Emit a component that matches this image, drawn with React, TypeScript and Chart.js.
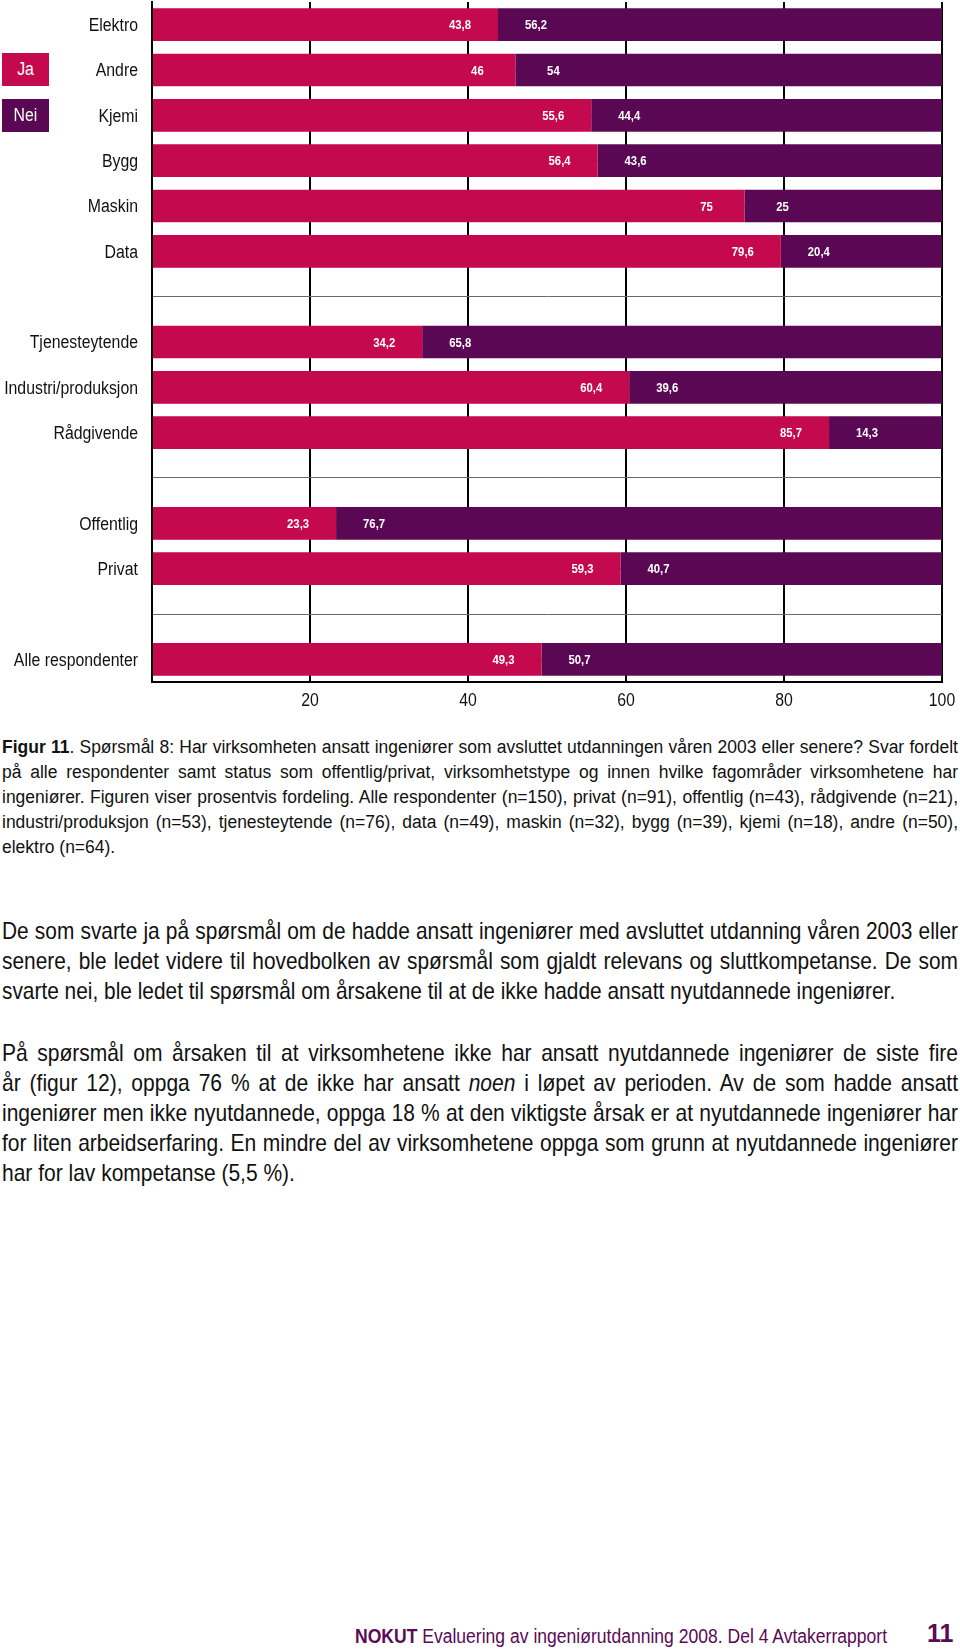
import React, { useEffect, useMemo, useRef } from 'react';
import { Chart, registerables } from 'chart.js';

Chart.register(...registerables);

// ---------- data ----------
const categories = [
  'Elektro',
  'Andre',
  'Kjemi',
  'Bygg',
  'Maskin',
  'Data',
  '',
  'Tjenesteytende',
  'Industri/produksjon',
  'Rådgivende',
  '',
  'Offentlig',
  'Privat',
  '',
  'Alle respondenter',
];
const jaValues = [43.8, 46, 55.6, 56.4, 75, 79.6, null, 34.2, 60.4, 85.7, null, 23.3, 59.3, null, 49.3];
const neiValues = [56.2, 54, 44.4, 43.6, 25, 20.4, null, 65.8, 39.6, 14.3, null, 76.7, 40.7, null, 50.7];
const seriesNames = ['Ja', 'Nei'];
const seriesColors = ['#C4094F', '#5B0854'];
const xTickStep = 20;
const xMin = 0;
const xMax = 100;

const captionLead = 'Figur 11';
const captionLines = [
  '. Spørsmål 8: Har virksomheten ansatt ingeniører som avsluttet utdanningen våren 2003 eller senere? Svar fordelt',
  'på alle respondenter samt status som offentlig/privat, virksomhetstype og innen hvilke fagområder virksomhetene har',
  'ingeniører. Figuren viser prosentvis fordeling. Alle respondenter (n=150), privat (n=91), offentlig (n=43), rådgivende (n=21),',
  'industri/produksjon (n=53), tjenesteytende (n=76), data (n=49), maskin (n=32), bygg (n=39), kjemi (n=18), andre (n=50),',
  'elektro (n=64).',
];
const para1Lines = [
  'De som svarte ja på spørsmål om de hadde ansatt ingeniører med avsluttet utdanning våren 2003 eller',
  'senere, ble ledet videre til hovedbolken av spørsmål som gjaldt relevans og sluttkompetanse. De som',
  'svarte nei, ble ledet til spørsmål om årsakene til at de ikke hadde ansatt nyutdannede ingeniører.',
];
const para2Lines = [
  'På spørsmål om årsaken til at virksomhetene ikke har ansatt nyutdannede ingeniører de siste fire',
  'år (figur 12), oppga 76 % at de ikke har ansatt |noen| i løpet av perioden. Av de som hadde ansatt',
  'ingeniører men ikke nyutdannede, oppga 18 % at den viktigste årsak er at nyutdannede ingeniører har',
  'for liten arbeidserfaring. En mindre del av virksomhetene oppga som grunn at nyutdannede ingeniører',
  'har for lav kompetanse (5,5 %).',
];
const footerLead = 'NOKUT';
const footerText = ' Evaluering av ingeniørutdanning 2008. Del 4 Avtakerrapport';
const pageNumber = '11';

const SANS = '"Liberation Sans", Arial, sans-serif';
const SANS_CANVAS = "'Liberation Sans', Arial, sans-serif";
const LABEL_SCALE = 0.88;

let measureCtx: CanvasRenderingContext2D | null = null;
function measure(text: string, font: string) {
  if (!measureCtx) measureCtx = document.createElement('canvas').getContext('2d');
  measureCtx!.font = font;
  return measureCtx!.measureText(text).width;
}

function drawScaledText(ctx: any, text: string, x: number, y: number, sx: number, align: string) {
  ctx.save();
  ctx.translate(x, y);
  ctx.scale(sx, 1);
  ctx.textAlign = align;
  ctx.fillText(text, 0, 0);
  ctx.restore();
}

const customText = {
  id: 'customText',
  afterDatasetsDraw(chart: any) {
    const ctx = chart.ctx;
    // value labels inside bars
    ctx.save();
    ctx.font = `bold 13px ${SANS_CANVAS}`;
    ctx.fillStyle = '#ffffff';
    ctx.textBaseline = 'middle';
    chart.data.datasets.forEach((ds: any, di: number) => {
      const meta = chart.getDatasetMeta(di);
      meta.data.forEach((el: any, i: number) => {
        const v = ds.data[i];
        if (v == null) return;
        const p = el.getProps(['x', 'y', 'base'], true);
        const cx = di === 0 ? p.x - 38 : p.base + 38;
        drawScaledText(ctx, String(v).replace('.', ','), cx, p.y + 1, 0.87, 'center');
      });
    });
    ctx.restore();

    // axis labels
    ctx.save();
    ctx.fillStyle = '#111111';
    ctx.textBaseline = 'middle';
    ctx.font = `18px ${SANS_CANVAS}`;
    const yScale = chart.scales.y;
    yScale.ticks.forEach((t: any, i: number) => {
      const label = chart.data.labels[t.value] ?? '';
      if (!label) return;
      const y = yScale.getPixelForTick(i);
      drawScaledText(ctx, label, yScale.right - 14, y + 1.5, LABEL_SCALE, 'right');
    });
    const xScale = chart.scales.x;
    xScale.ticks.forEach((t: any) => {
      if (t.value === xMin) return;
      const x = xScale.getPixelForValue(t.value);
      drawScaledText(ctx, String(t.value), x, chart.chartArea.bottom + 19, LABEL_SCALE, 'center');
    });
    ctx.restore();
  },
};

function renderLine(text: string) {
  const parts = text.split('|');
  return parts.map((p, i) => (i % 2 === 1 ? <i key={i}>{p}</i> : <React.Fragment key={i}>{p}</React.Fragment>));
}

function JustifiedBlock({ lines, fontSize, lineHeight, top, lead, maxScale }: any) {
  const scale = useMemo(() => {
    let maxW = 0;
    lines.forEach((l: string, i: number) => {
      let w = measure(l.replace(/\|/g, ''), `${fontSize}px ${SANS_CANVAS}`);
      if (i === 0 && lead) w += measure(lead, `bold ${fontSize}px ${SANS_CANVAS}`);
      maxW = Math.max(maxW, w);
    });
    return Math.min(maxScale, 950 / maxW);
  }, [lines, fontSize, lead, maxScale]);
  return (
    <div
      style={{
        position: 'absolute',
        left: 2,
        top,
        width: 956 / scale,
        transform: `scaleX(${scale})`,
        transformOrigin: 'left top',
        fontFamily: SANS,
        fontSize,
        lineHeight: `${lineHeight}px`,
        color: '#111111',
      }}
    >
      {lines.map((l: string, i: number) => (
        <div
          key={i}
          style={{
            textAlign: 'justify',
            textAlignLast: i === lines.length - 1 ? 'left' : 'justify',
            whiteSpace: 'normal',
          } as any}
        >
          {i === 0 && lead ? <b>{lead}</b> : null}
          {renderLine(l)}
        </div>
      ))}
    </div>
  );
}

function Footer() {
  const scale = useMemo(() => {
    const w = measure(footerLead, `bold 20px ${SANS_CANVAS}`) + measure(footerText, `20px ${SANS_CANVAS}`);
    return 533 / w;
  }, []);
  return (
    <>
      <div
        style={{
          position: 'absolute',
          left: 355,
          top: 1624,
          fontFamily: SANS,
          fontSize: 20,
          lineHeight: '24px',
          color: '#5B0A55',
          whiteSpace: 'nowrap',
          transform: `scaleX(${scale})`,
          transformOrigin: 'left top',
        }}
      >
        <b>{footerLead}</b>
        {footerText}
      </div>
      <div
        style={{
          position: 'absolute',
          left: 927,
          top: 1619,
          fontFamily: SANS,
          fontSize: 25,
          lineHeight: '28px',
          fontWeight: 'bold',
          color: '#5B0A55',
          whiteSpace: 'nowrap',
        }}
      >
        {pageNumber}
      </div>
    </>
  );
}

export default function App() {
  const canvasRef = useRef<HTMLCanvasElement | null>(null);

  useEffect(() => {
    if (!canvasRef.current) return;
    const chart = new Chart(canvasRef.current, {
      type: 'bar',
      data: {
        labels: categories,
        datasets: [
          {
            label: seriesNames[0],
            data: jaValues as any,
            backgroundColor: seriesColors[0],
            borderWidth: 0,
            categoryPercentage: 0.72,
            barPercentage: 1,
          },
          {
            label: seriesNames[1],
            data: neiValues as any,
            backgroundColor: seriesColors[1],
            borderWidth: 0,
            categoryPercentage: 0.72,
            barPercentage: 1,
          },
        ],
      },
      options: {
        indexAxis: 'y',
        responsive: false,
        animation: false,
        layout: { padding: { top: 2, right: 18, bottom: 0, left: 0 } },
        plugins: {
          legend: { display: false },
          tooltip: { enabled: false },
        },
        scales: {
          x: {
            type: 'linear',
            stacked: true,
            min: xMin,
            max: xMax,
            position: 'bottom',
            afterFit: (scale: any) => {
              scale.height = 30;
            },
            grid: {
              color: '#000000',
              lineWidth: 2,
              drawTicks: false,
            },
            border: { display: true, color: '#000000', width: 2 },
            ticks: {
              stepSize: xTickStep,
              display: false,
            },
          },
          y: {
            type: 'category',
            stacked: true,
            offset: true,
            afterFit: (scale: any) => {
              scale.width = 152;
            },
            grid: {
              offset: false,
              color: '#6a6a6a',
              lineWidth: 1,
              drawTicks: false,
            },
            border: { display: true, color: '#000000', width: 2 },
            ticks: {
              autoSkip: false,
              display: false,
            },
          },
        },
      } as any,
      plugins: [customText],
    });
    return () => chart.destroy();
  }, []);

  return (
    <div style={{ position: 'absolute', left: 0, top: 0, width: 960, height: 1652, background: '#fff' }}>
      <canvas ref={canvasRef} width={960} height={712} style={{ position: 'absolute', left: 0, top: 0 }} />
      {seriesNames.map((name, i) => (
        <div
          key={name}
          style={{
            position: 'absolute',
            left: 2,
            top: 53 + i * 45.5,
            width: 47,
            height: 33,
            background: seriesColors[i],
            color: '#fff',
            fontFamily: SANS,
            fontSize: 18,
            lineHeight: '33px',
            textAlign: 'center',
          }}
        >
          <span style={{ display: 'inline-block', transform: `scaleX(${LABEL_SCALE})` }}>{name}</span>
        </div>
      ))}
      <JustifiedBlock lines={captionLines} fontSize={18} lineHeight={25} top={735} lead={captionLead} maxScale={1} />
      <JustifiedBlock lines={para1Lines} fontSize={24} lineHeight={30} top={916} maxScale={0.95} />
      <JustifiedBlock lines={para2Lines} fontSize={24} lineHeight={30} top={1038} maxScale={0.95} />
      <Footer />
    </div>
  );
}
